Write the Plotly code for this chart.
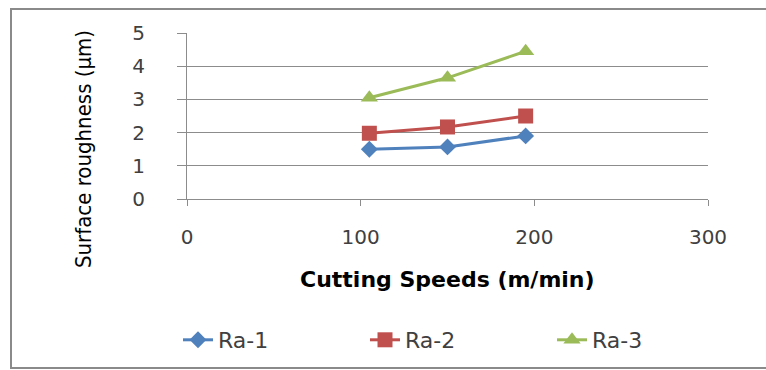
import plotly.graph_objects as go

speeds = [105, 150, 195]
ra1 = [1.50, 1.57, 1.90]
ra2 = [1.98, 2.17, 2.50]
ra3 = [3.05, 3.65, 4.45]
series_names = ["Ra-1", "Ra-2", "Ra-3"]
x_ticks = [0, 100, 200, 300]
y_ticks = [0, 1, 2, 3, 4, 5]

W, H = 766, 370
L, R, T, B = 187, 58, 33, 171
pw, ph = W - L - R, H - T - B

def px(xp):
    return (xp - L) / pw

def py(yp):
    return (H - B - yp) / ph

colors = ["#4F81BD", "#C0504D", "#9BBB59"]
symbols = ["diamond", "square", "triangle-up"]
sizes = [13, 15, 15]

fig = go.Figure()
for name, ys, c, s, sz in zip(series_names, [ra1, ra2, ra3], colors, symbols, sizes):
    fig.add_trace(go.Scatter(
        x=speeds, y=ys, name=name, mode="lines+markers",
        line=dict(color=c, width=3),
        marker=dict(symbol=s, size=sz, color=c),
    ))

grid = "#8c8c8c"
tickfont = dict(family="DejaVu Sans", size=20, color="#404040")
fig.update_xaxes(range=[0, 300], tickvals=x_ticks, showgrid=False, zeroline=False,
                 showline=True, linecolor=grid, linewidth=1,
                 ticks="outside", ticklen=6, tickcolor=grid,
                 tickfont=tickfont, ticklabelstandoff=14)
fig.update_yaxes(range=[0, 5], tickvals=y_ticks, showgrid=True, gridcolor=grid, gridwidth=1,
                 zeroline=False, showline=True, linecolor=grid, linewidth=1,
                 ticks="outside", ticklen=9, tickcolor=grid,
                 tickfont=tickfont, ticklabelstandoff=28)

fig.add_annotation(text="Surface roughness (µm)", textangle=-90, showarrow=False,
                   xref="paper", yref="paper", x=px(83), y=py(149),
                   xanchor="center", yanchor="middle",
                   font=dict(family="Liberation Sans Narrow, DejaVu Sans Condensed, Roboto Condensed, Liberation Sans", size=22, color="#000000"))
fig.add_annotation(text="<b>Cutting Speeds (m/min)</b>", showarrow=False,
                   xref="paper", yref="paper", x=px(447), y=py(279),
                   xanchor="center", yanchor="middle",
                   font=dict(family="DejaVu Sans", size=22, color="#000000"))

fig.add_shape(type="rect", xref="paper", yref="paper",
              x0=px(11), x1=px(775), y0=py(368), y1=py(9),
              line=dict(color="#8a8a8a", width=2), layer="below")

fig.update_layout(
    width=W, height=H,
    margin=dict(l=L, r=R, t=T, b=B, autoexpand=False),
    paper_bgcolor="white", plot_bgcolor="white",
    showlegend=True,
    legend=dict(orientation="h", xref="paper", yref="paper",
                x=px(178), y=py(340), xanchor="left", yanchor="middle",
                font=dict(family="DejaVu Sans", size=22, color="#404040"),
                entrywidth=142, entrywidthmode="pixels",
                bgcolor="rgba(0,0,0,0)"),
)

fig.write_html("out.html")
